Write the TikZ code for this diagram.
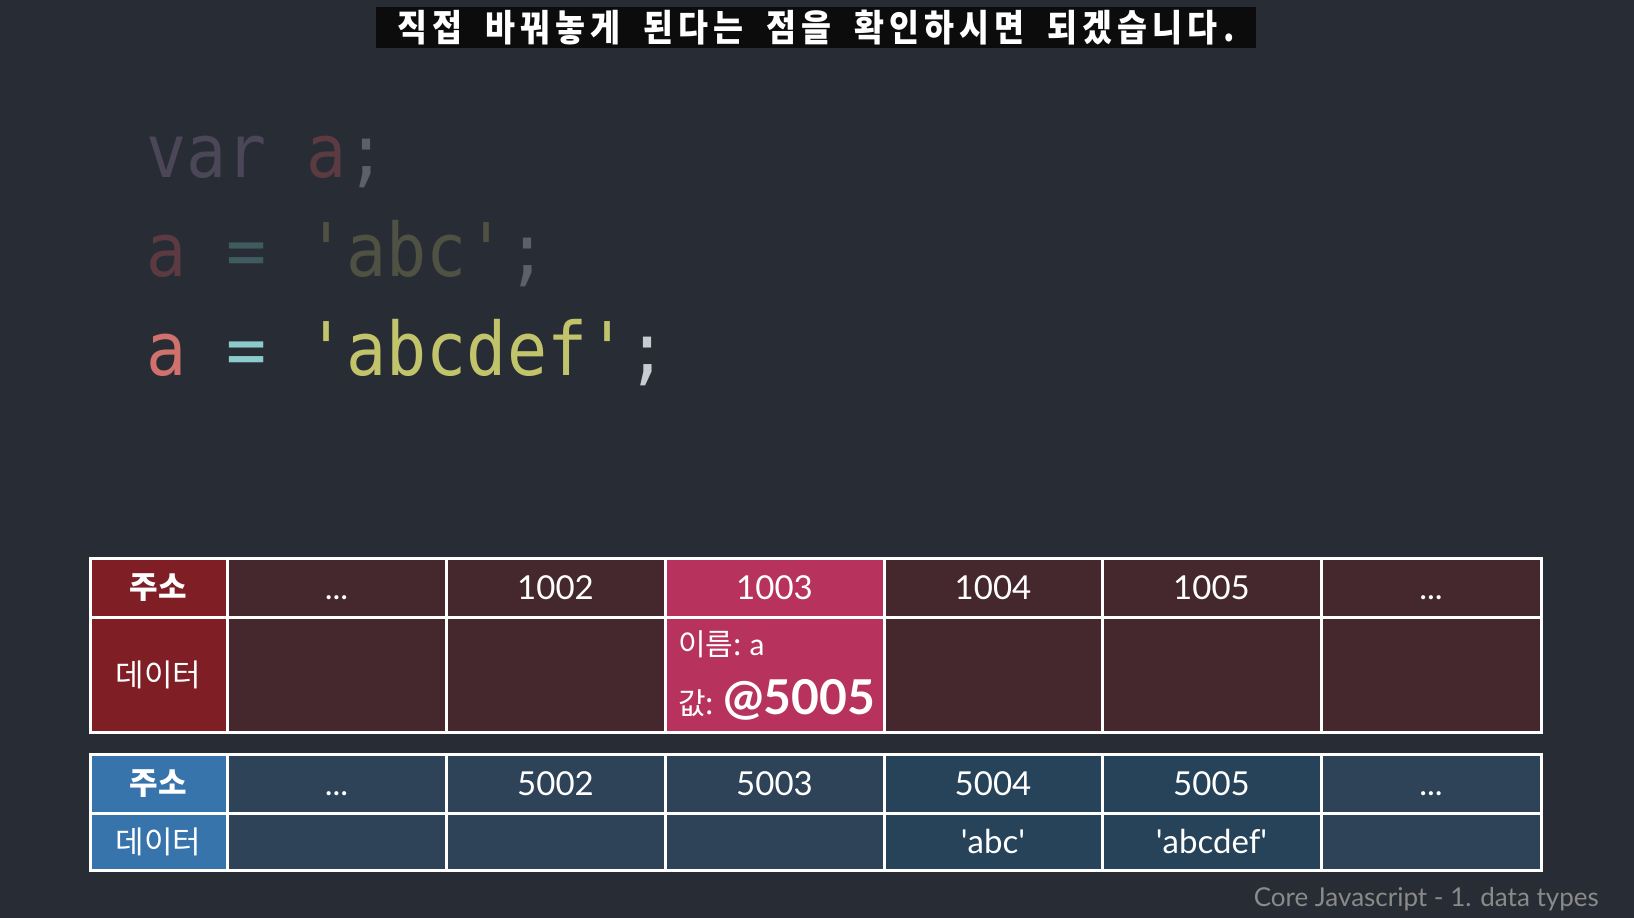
\documentclass[tikz,border=0pt]{standalone}
\usepackage{fontspec}
\setmainfont{Lato}
\newfontfamily\kr{Noto Sans CJK KR}
\newfontfamily\subfont[FakeStretch=0.88,LetterSpace=14,WordSpace=1.8]{Noto Sans CJK KR}
\newfontfamily\codefont[FakeStretch=0.9]{DejaVu Sans Mono}
\definecolor{bg}{HTML}{282C34}
\definecolor{subbg}{HTML}{0C0C0C}
\definecolor{kwvar}{HTML}{4B4658}
\definecolor{dimA}{HTML}{5B3B41}
\definecolor{dimSemi}{HTML}{5C6068}
\definecolor{dimEq}{HTML}{3F5B60}
\definecolor{dimStr}{HTML}{4F5143}
\definecolor{litA}{HTML}{D0716E}
\definecolor{litEq}{HTML}{8CCBCB}
\definecolor{litStr}{HTML}{C2C46C}
\definecolor{litSemi}{HTML}{C8CCD0}
\definecolor{redhead}{HTML}{7F1F25}
\definecolor{maroon}{HTML}{45282D}
\definecolor{hilite}{HTML}{B8325E}
\definecolor{bluehead}{HTML}{3874AC}
\definecolor{slate}{HTML}{2E4357}
\definecolor{slatedeep}{HTML}{27435A}
\definecolor{footgray}{HTML}{8A8A8A}
\newcommand\ddd{\vphantom{0}...}
\newcommand\sq{\textquotesingle}
\begin{document}
\begin{tikzpicture}[x=1pt,y=-1pt,
  cellbox/.style={draw=white, line width=3pt, inner sep=0pt, text=white,
    font=\fontsize{33}{38}\selectfont},
  krlabel/.style={font=\kr\fontsize{31}{36}\selectfont},
  codeline/.style={anchor=base west, inner sep=0pt, font=\codefont\fontsize{74}{80}\selectfont}]
\useasboundingbox[fill=bg] (0,0) rectangle (1634,918);

% subtitle
\node[fill=subbg, minimum width=880pt, minimum height=41pt, inner sep=0pt, text=white,
  font=\subfont\bfseries\fontsize{37}{40}\selectfont] (sub) at (816,27.5)
  {직접 바꿔놓게 된다는 점을 확인하시면 되겠습니다.};

% code
\node[codeline] (l1) at (146,177) {\color{kwvar}var \color{dimA}a\color{dimSemi};};
\node[codeline] (l2) at (146,276) {\color{dimA}a \color{dimEq}= \color{dimStr}'abc'\color{dimSemi};};
\node[codeline] (l3) at (146,375) {\color{litA}a \color{litEq}= \color{litStr}'abcdef'\color{litSemi};};

% top table
\node[cellbox, fill=redhead, minimum width=137pt, minimum height=58.5pt, krlabel] (th) at (158.5,587.75) {\bfseries 주소};
\node[cellbox, fill=redhead, minimum width=137pt, minimum height=115.5pt, krlabel] (tdh) at (158.5,674.75) {데이터};
\foreach \i/\a/\b/\lab in {1/227/446/\ddd, 2/446/665/1002, 4/884/1102/1004, 5/1102/1321/1005, 6/1321/1541/\ddd}{
  \node[cellbox, fill=maroon, minimum width={(\b-\a)*1pt}, minimum height=58.5pt] (ta\i) at ({(\a+\b)/2},587.75) {\lab};
  \node[cellbox, fill=maroon, minimum width={(\b-\a)*1pt}, minimum height=115.5pt] (td\i) at ({(\a+\b)/2},674.75) {};
}
\node[cellbox, fill=hilite, minimum width=219pt, minimum height=58.5pt] (ta3) at (774.5,587.75) {1003};
\node[cellbox, fill=hilite, minimum width=219pt, minimum height=115.5pt] (td3) at (774.5,674.75) {};
\node[anchor=base west, inner sep=0pt, text=white] (name) at (678,655)
  {{\kr\fontsize{30}{36}\selectfont 이름:}\hspace{8pt}{\fontsize{30}{36}\selectfont a}};
\node[anchor=base west, inner sep=0pt, text=white] (val) at (678,714)
  {{\kr\fontsize{30}{36}\selectfont 값:}\hspace{9pt}{\fontsize{48}{52}\selectfont\bfseries @5005}};

% bottom table
\node[cellbox, fill=bluehead, minimum width=137pt, minimum height=58.5pt, krlabel] (bh) at (158.5,783.75) {\bfseries 주소};
\node[cellbox, fill=bluehead, minimum width=137pt, minimum height=57pt, krlabel] (bdh) at (158.5,841.5) {데이터};
\foreach \i/\a/\b/\lab/\dat/\col in {1/227/446/\ddd//slate, 2/446/665/5002//slate, 3/665/884/5003//slate,
   4/884/1102/5004/\sq abc\sq/slatedeep, 5/1102/1321/5005/\sq abcdef\sq/slatedeep, 6/1321/1541/\ddd//slate}{
  \node[cellbox, fill=\col, minimum width={(\b-\a)*1pt}, minimum height=58.5pt] (ba\i) at ({(\a+\b)/2},783.75) {\lab};
  \node[cellbox, fill=\col, minimum width={(\b-\a)*1pt}, minimum height=57pt] (bd\i) at ({(\a+\b)/2},841.5) {\dat};
}

% footer
\node[anchor=base east, inner sep=0pt, text=footgray, font=\fontsize{26}{30}\selectfont] (foot) at (1599,906)
  {Core Javascript - 1. data types};
\end{tikzpicture}
\end{document}
